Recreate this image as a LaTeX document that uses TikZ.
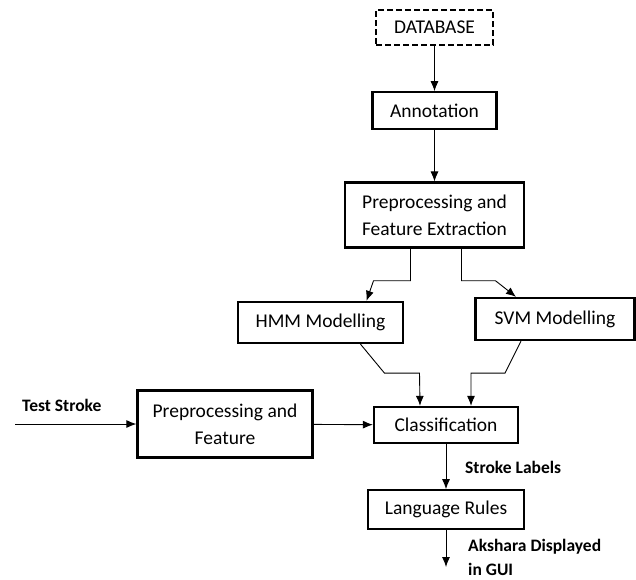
\documentclass[tikz,border=0pt]{standalone}
\usepackage{fontspec}
\setmainfont{Carlito}
\usetikzlibrary{positioning,arrows.meta}

\tikzset{
  blk/.style={draw,line width=2.3pt,align=center,inner sep=2pt,
    font=\fontsize{19.5}{27}\selectfont},
  lbl/.style={font=\fontsize{17.5}{24}\selectfont\bfseries,align=left,inner sep=0pt},
  flow/.style={->,line width=0.9pt}
}

\begin{document}
\begin{tikzpicture}[x=1pt,y=-1pt,>={Latex[length=10pt,width=8pt]},node distance=45pt]
\useasboundingbox (0,0) rectangle (636,579);

\node[blk,dash pattern=on 6pt off 3pt,minimum width=117pt,minimum height=35pt] (db) at (434.5,27.5) {DATABASE};
\node[blk,minimum width=124pt,minimum height=37pt] (ann) [below=45pt of db] {Annotation};
\node[blk,minimum width=179pt,minimum height=65pt] (ppfe) [below=51pt of ann] {Preprocessing and\\Feature Extraction};

\node[blk,minimum width=165pt,minimum height=41pt] (hmm) at (320.5,322.5) {HMM Modelling};
\node[blk,minimum width=159pt,minimum height=42pt] (svm) at (555,319) {SVM Modelling};

\node[blk,minimum width=175pt,minimum height=67pt] (ppf) at (225,424) {Preprocessing and\\Feature};
\node[blk,minimum width=144pt,minimum height=36pt] (cls) at (446,425) {Classification};
\node[blk,minimum width=156pt,minimum height=39pt] (lang) [below=45pt of cls] {Language Rules};

\coordinate (in) at (15,424);
\coordinate (out) at (446,567);
\node[lbl,anchor=west] (test) at (22,405) {Test Stroke};
\node[lbl,anchor=west] (slab) at (465,467) {Stroke Labels};
\node[lbl,anchor=west] (aks) at (468,557) {Akshara Displayed\\in GUI};

\draw[flow] (db) -- (ann);
\draw[flow] (ann) -- (ppfe);
\draw[flow] ([xshift=-24pt]ppfe.south) -- ++(0,32) -- ++(-37,0) -- ([xshift=46pt]hmm.north);
\draw[flow] ([xshift=27pt]ppfe.south) -- ++(0,32) -- ++(34,0) -- ([xshift=-39pt]svm.north);
\draw[flow] ([xshift=40pt]hmm.south) -- ++(24,29) -- ++(35,0) -- ([xshift=-26pt]cls.north);
\draw[flow] ([xshift=-34pt]svm.south) -- ++(-16,32) -- ++(-34,0) -- ([xshift=25pt]cls.north);
\draw[flow] (in) -- (ppf.west |- in);
\draw[flow] (ppf) -- (cls);
\draw[flow] (cls) -- (lang);
\draw[flow] (lang) -- (out);

\end{tikzpicture}
\end{document}
